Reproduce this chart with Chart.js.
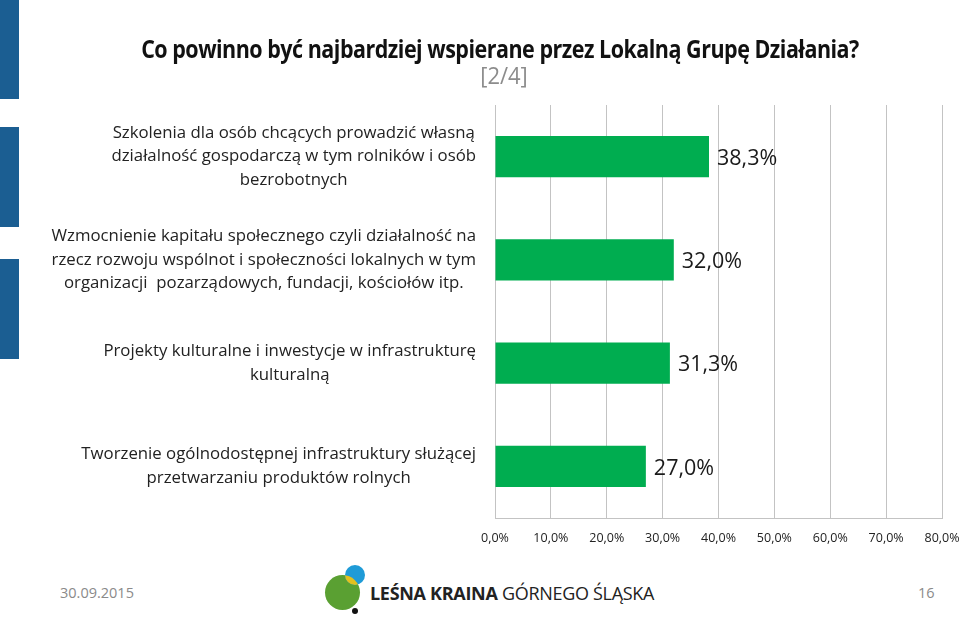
<!DOCTYPE html>
<html>
<head>
<meta charset="utf-8">
<script src="https://cdn.jsdelivr.net/npm/chart.js@4"></script>
<style>
    html, body { margin: 0; padding: 0; background: #fff; width: 960px; height: 618px; overflow: hidden; position: relative; }
    .strip { position: absolute; left: 0; width: 19px; background: #1b5e92; }
    #title { position: absolute; left: 0; width: 1000px; top: 31px; text-align: center; font-family: 'Open Sans', sans-serif; font-weight: bold; font-size: 21.5px; color: #111; letter-spacing: -0.5px; transform: scaleY(1.18); transform-origin: top; }
    #sub { position: absolute; left: 0; width: 1008px; top: 58px; text-align: center; font-family: 'Open Sans', sans-serif; font-size: 22px; color: #8c8c8c; transform: scaleY(1.1); transform-origin: top; }
    #chartBox { position: absolute; left: 0; top: 0; width: 1000px; height: 560px; }
    .foot { position: absolute; top: 583px; font-family: 'Open Sans', sans-serif; font-size: 14.5px; color: #8a8a8a; }
    .dot { position: absolute; border-radius: 50%; }
    #logoText { position: absolute; left: 370px; top: 581px; font-family: 'Open Sans', sans-serif; font-size: 18px; color: #222; letter-spacing: -0.3px; }
</style>
</head>
<body>
<div class="strip" style="top:0;height:99px"></div>
<div class="strip" style="top:127px;height:100px"></div>
<div class="strip" style="top:259px;height:100px"></div>

<div id="chartBox"><canvas id="chart"></canvas></div>

<div id="title">Co powinno być najbardziej wspierane przez Lokalną Grupę Działania?</div>
<div id="sub">[2/4]</div>

<div class="foot" style="left:60px">30.09.2015</div>
<div class="foot" style="left:918px">16</div>

<div class="dot" style="left:325px;top:575px;width:35px;height:35px;background:#5aa032"></div>
<div class="dot" style="left:345px;top:565px;width:20px;height:20px;background:#1f9bd7;overflow:hidden">
    <div class="dot" style="left:-20px;top:10px;width:35px;height:35px;background:#e3c11f"></div>
</div>
<div class="dot" style="left:352px;top:608px;width:6px;height:6px;background:#111"></div>
<div id="logoText"><b>LEŚNA KRAINA</b> GÓRNEGO ŚLĄSKA</div>

<script>
// labels of the categories, one array of lines each
const categories = [
    ['Szkolenia dla osób chcących prowadzić własną', 'działalność gospodarczą w tym rolników i osób', 'bezrobotnych'],
    ['Wzmocnienie kapitału społecznego czyli działalność na', 'rzecz rozwoju wspólnot i społeczności lokalnych w tym', 'organizacji  pozarządowych, fundacji, kościołów itp.'],
    ['Projekty kulturalne i inwestycje w infrastrukturę', 'kulturalną'],
    ['Tworzenie ogólnodostępnej infrastruktury służącej', 'przetwarzaniu produktów rolnych']
];
const values = [38.3, 32.0, 31.3, 27.0];
const valueLabels = ['38,3%', '32,0%', '31,3%', '27,0%'];
const tickLabels = ['0,0%', '10,0%', '20,0%', '30,0%', '40,0%', '50,0%', '60,0%', '70,0%', '80,0%'];

const FONT = "'Open Sans', sans-serif";

// y labels: block right aligned next to the plot, lines centered inside the block
const categoryLabels = {
    id: 'categoryLabels',
    afterDraw(chart) {
        let ctx = chart.ctx;
        let yScale = chart.scales.y;
        let right = chart.chartArea.left - 19;
        ctx.save();
        ctx.font = '16.8px ' + FONT;
        ctx.fillStyle = '#222';
        ctx.textAlign = 'center';
        ctx.textBaseline = 'middle';
        categories.forEach((lines, i) => {
            let maxW = Math.max(...lines.map(l => ctx.measureText(l).width));
            let cx = right - maxW / 2;
            let cy = yScale.getPixelForTick(i);
            let lh = 23.5;
            lines.forEach((line, j) => {
                ctx.fillText(line, cx, cy + (j - (lines.length - 1) / 2) * lh);
            });
        });
        ctx.restore();
    }
};

// value at the end of each bar
const valueText = {
    id: 'valueText',
    afterDatasetsDraw(chart) {
        let ctx = chart.ctx;
        let meta = chart.getDatasetMeta(0);
        ctx.save();
        ctx.font = '21.5px ' + FONT;
        ctx.fillStyle = '#1a1a1a';
        ctx.textAlign = 'left';
        ctx.textBaseline = 'middle';
        meta.data.forEach((bar, i) => {
            ctx.fillText(valueLabels[i], bar.x + 8, bar.y + 2);
        });
        ctx.restore();
    }
};

new Chart(document.getElementById('chart'), {
    type: 'bar',
    data: {
        labels: categories.map(c => c.join(' ')),
        datasets: [{
            data: values,
            backgroundColor: '#00ad50',
            borderWidth: 0,
            categoryPercentage: 1,
            barPercentage: 0.4
        }]
    },
    options: {
        indexAxis: 'y',
        responsive: true,
        maintainAspectRatio: false,
        animation: false,
        layout: { padding: { top: 105, right: 58, bottom: 0, left: 0 } },
        plugins: {
            legend: { display: false },
            tooltip: { enabled: false }
        },
        scales: {
            x: {
                min: 0,
                max: 80,
                afterFit(scale) { scale.height = 42; },
                ticks: {
                    stepSize: 10,
                    padding: 13,
                    color: '#222',
                    font: { family: FONT, size: 12.5 },
                    callback: (v, i) => tickLabels[i]
                },
                grid: { color: '#c3c3c3', lineWidth: 1, drawTicks: false },
                border: { color: '#c3c3c3' }
            },
            y: {
                afterFit(scale) { scale.width = 495; },
                ticks: { display: false },
                grid: { display: false },
                border: { display: false }
            }
        }
    },
    plugins: [categoryLabels, valueText]
});
</script>
</body>
</html>
